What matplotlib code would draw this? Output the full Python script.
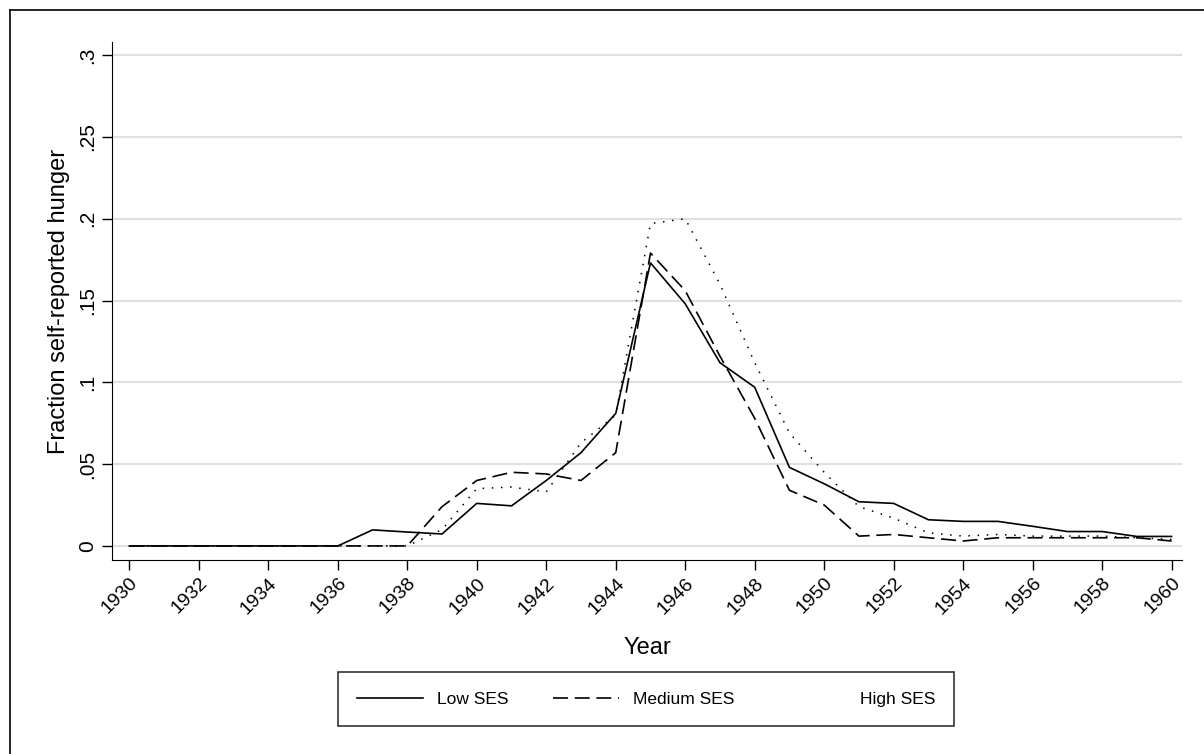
import numpy as np
import matplotlib.pyplot as plt
from matplotlib.lines import Line2D

plt.rcParams['font.family'] = ['Liberation Sans', 'DejaVu Sans']

years = np.arange(1930, 1961)

low_ses = [0, 0, 0, 0, 0, 0, 0, 0.0098, 0.0085, 0.0073, 0.026,
           0.0245, 0.040, 0.057, 0.081, 0.173, 0.148, 0.112, 0.097,
           0.048, 0.038, 0.027, 0.026, 0.016, 0.015, 0.015, 0.012,
           0.0088, 0.0088, 0.0058, 0.0058]

medium_ses = [0, 0, 0, 0, 0, 0, 0, 0, 0, 0.024, 0.040,
              0.045, 0.044, 0.040, 0.057, 0.179, 0.156, 0.116, 0.078,
              0.034, 0.025, 0.006, 0.007, 0.005, 0.003, 0.005, 0.005,
              0.005, 0.005, 0.005, 0.003]

high_ses = [0, 0, 0, 0, 0, 0, 0, 0, 0, 0.010, 0.035,
            0.036, 0.033, 0.063, 0.080, 0.197, 0.200, 0.160, 0.112,
            0.069, 0.045, 0.024, 0.017, 0.008, 0.006, 0.007, 0.006,
            0.006, 0.006, 0.005, 0.004]

fig = plt.figure(figsize=(12.04, 7.54), dpi=100)
ax = fig.add_axes([112 / 1204, 1 - 560 / 754, (1182 - 112) / 1204, (560 - 42) / 754])

# outer frame (top and left edges only, as in the source)
fig.add_artist(Line2D([10 / 1204, 1], [1 - 10 / 754, 1 - 10 / 754], color='black', lw=1.2))
fig.add_artist(Line2D([10 / 1204, 10 / 1204], [1 - 10 / 754, 0], color='black', lw=1.2))

ax.plot(years, low_ses, color='black', lw=1.2, linestyle='-')
ax.plot(years, medium_ses, color='black', lw=1.2, linestyle=(0, (9, 4)))
ax.plot(years, high_ses, color='black', lw=1.1, linestyle=(0, (1, 5)))

ax.set_xlim(1929.5, 1960.3)
ax.set_ylim(-0.0086, 0.308)
ax.set_xticks(np.arange(1930, 1961, 2))
ax.set_xticklabels([str(y) for y in range(1930, 1961, 2)], rotation=45,
                   ha='right', rotation_mode='anchor', fontsize=14)
yt = [0, 0.05, 0.1, 0.15, 0.2, 0.25, 0.3]
ax.set_yticks(yt)
ax.set_yticklabels(['0', '.05', '.1', '.15', '.2', '.25', '.3'], rotation=90,
                   va='center', fontsize=15)
ax.tick_params(direction='out', length=7, width=1, colors='black')

ax.yaxis.grid(True, color='#e0e0e0', lw=1.5)
ax.set_axisbelow(True)
for s in ['top', 'right']:
    ax.spines[s].set_visible(False)

ax.set_xlabel('Year', fontsize=17, labelpad=14)
ax.set_ylabel('Fraction self-reported hunger', fontsize=17, labelpad=6)

handles = [Line2D([], [], color='black', lw=1.2, linestyle='-'),
           Line2D([], [], color='black', lw=1.2, linestyle=(0, (9, 4))),
           Line2D([], [], color='white', lw=1.0, linestyle=(0, (1, 5)))]
leg = fig.legend(handles, ['Low SES', 'Medium SES', 'High SES'],
                 loc='center', bbox_to_anchor=(646 / 1204, 1 - 699 / 754),
                 ncol=3, fontsize=12.5, frameon=True, fancybox=False,
                 edgecolor='black', handlelength=3.8, columnspacing=2.6,
                 borderpad=1.1)
leg.get_frame().set_linewidth(1.2)

fig.savefig('out.png', dpi=100)
